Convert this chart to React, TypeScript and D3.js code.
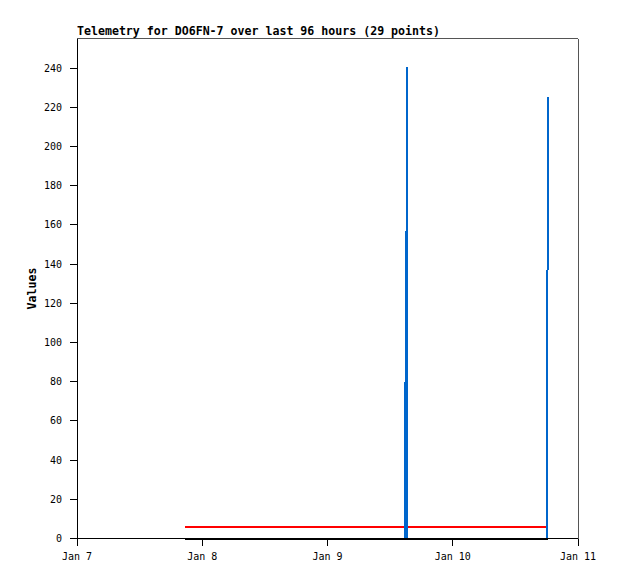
import React from "react";
import * as d3 from "d3";

const title = "Telemetry for DO6FN-7 over last 96 hours (29 points)";
const yLabel = "Values";

// hours after Jan 7 00:00
const hours = [
  20.7, 24.5, 28.0, 31.6, 35.2, 38.9, 42.3, 45.8, 49.5, 53.1, 56.7, 60.2,
  62.88, 62.9, 63.2, 63.25, 63.3, 66.9, 70.4, 73.8, 77.3, 80.7, 84.2, 87.0,
  88.5, 89.4, 90.1, 90.12, 90.3,
];
const blueValues = [
  0, 0, 0, 0, 0, 0, 0, 0, 0, 0, 0, 0, 0, 60, 180, 240.7, 0, 0, 0, 0, 0, 0, 0,
  0, 0, 0, 0, 112, 225,
];
const redValues = hours.map(() => 6);
const blackValues = hours.map(() => 0);
const yTicks = [0, 20, 40, 60, 80, 100, 120, 140, 160, 180, 200, 220, 240];
const xStart = new Date(2024, 0, 7);
const xEnd = new Date(2024, 0, 11);

const W = 618;
const H = 579;
const L = 77;
const R = 578;
const T = 38.5;
const B = 538.5;

export default function App() {
  const x = d3.scaleTime().domain([xStart, xEnd]).range([L, R]);
  const y = d3.scaleLinear().domain([0, 255.1]).range([B, T]);
  const toDate = (h: number) => new Date(xStart.getTime() + h * 3600 * 1000);
  const mk = (vals: number[]) =>
    d3
      .line<number>()
      .x((_, i) => x(toDate(hours[i])))
      .y((v) => y(v))(vals) as string;
  const xTicks = x.ticks(d3.timeDay.every(1)!);
  const fmt = d3.timeFormat("%b %-d");
  const mono = "'DejaVu Sans Mono', monospace";
  return (
    <svg
      width={W}
      height={H}
      style={{ position: "absolute", left: 0, top: 0, background: "#fff" }}
    >
      <rect x={0} y={0} width={W} height={H} fill="#fff" />
      <text
        x={L}
        y={35}
        fontFamily={mono}
        fontWeight="bold"
        fontSize={11.6}
        fill="#000"
      >
        {title}
      </text>
      <text
        transform={`translate(36,${(T + B) / 2}) rotate(-90)`}
        textAnchor="middle"
        fontFamily={mono}
        fontWeight="bold"
        fontSize={11.6}
        fill="#000"
      >
        {yLabel}
      </text>
      {/* frame */}
      <line x1={L} x2={R} y1={T} y2={T} stroke="#555" strokeWidth={1} shapeRendering="crispEdges" />
      <line x1={R} x2={R} y1={T} y2={B} stroke="#555" strokeWidth={1} shapeRendering="crispEdges" />
      {/* data */}
      <path d={mk(redValues)} fill="none" stroke="#ff0000" strokeWidth={2} shapeRendering="crispEdges" />
      <path d={mk(blueValues)} fill="none" stroke="#0066cc" strokeWidth={2} shapeRendering="crispEdges" />
      <path d={mk(blackValues)} fill="none" stroke="#000" strokeWidth={2} shapeRendering="crispEdges" />
      {/* axes */}
      <line x1={L} x2={L} y1={T} y2={B} stroke="#000" strokeWidth={1} shapeRendering="crispEdges" />
      <line x1={L} x2={R} y1={B} y2={B} stroke="#000" strokeWidth={1} shapeRendering="crispEdges" />
      {yTicks.map((t) => (
        <g key={t}>
          <line x1={L - 7} x2={L} y1={y(t)} y2={y(t)} stroke="#000" shapeRendering="crispEdges" />
          <text
            x={L - 15}
            y={y(t)}
            dy="0.35em"
            textAnchor="end"
            fontFamily={mono}
            fontSize={10}
            fill="#000"
          >
            {t}
          </text>
        </g>
      ))}
      {xTicks.map((t) => (
        <g key={t.getTime()}>
          <line x1={x(t)} x2={x(t)} y1={B} y2={B + 7} stroke="#000" shapeRendering="crispEdges" />
          <text
            x={x(t)}
            y={556}
            dy="0.35em"
            textAnchor="middle"
            fontFamily={mono}
            fontSize={10}
            fill="#000"
          >
            {fmt(t)}
          </text>
        </g>
      ))}
    </svg>
  );
}
